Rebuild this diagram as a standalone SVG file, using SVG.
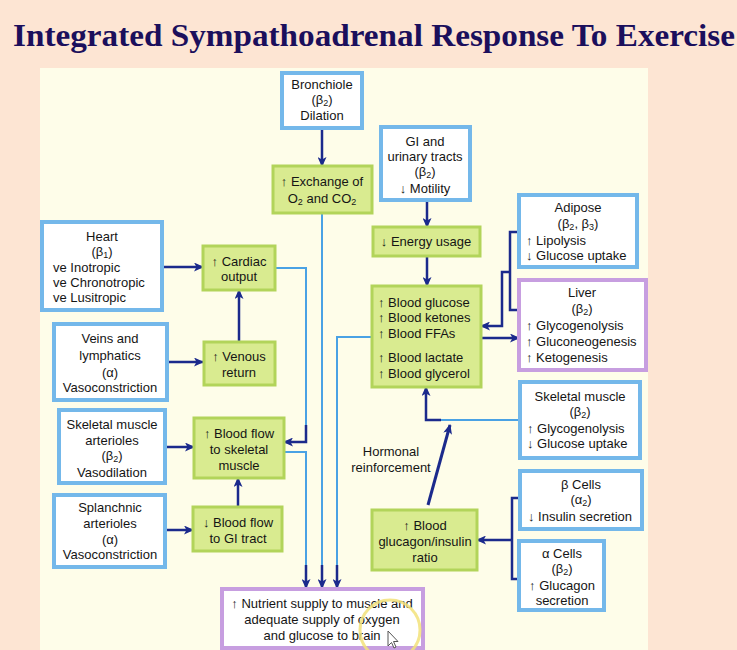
<svg xmlns="http://www.w3.org/2000/svg" width="737" height="650" viewBox="0 0 737 650">
<defs>
<marker id="ah" markerUnits="userSpaceOnUse" markerWidth="10" markerHeight="9" refX="9" refY="4.5" orient="auto">
<path d="M0,0 L10,4.5 L0,9 L2.5,4.5 z" fill="#1b2a8c"/>
</marker>
<style>
.t{font-family:"Liberation Sans",Arial,sans-serif;font-size:13px;fill:#151515}
.m{text-anchor:middle}
.s{font-size:9px}
.blue{fill:#ffffff;stroke:#74b8ea;stroke-width:4}
.green{fill:#d9eb90;stroke:#b2d45a;stroke-width:3}
.purple{fill:#ffffff;stroke:#c79ee0;stroke-width:4}
.lb{fill:none;stroke:#4aa2e4;stroke-width:2}
.nv{fill:none;stroke:#1b2a8c;stroke-width:2.5}
.ar{fill:none;stroke:#1b2a8c;stroke-width:2.5;marker-end:url(#ah)}
</style>
</defs>
<rect x="0" y="0" width="737" height="650" fill="#fde5d3"/>
<rect x="40" y="68" width="608" height="582" fill="#fefde9"/>
<text x="374" y="46" text-anchor="middle" font-family="'Liberation Serif','Times New Roman',serif" font-weight="bold" font-size="32" fill="#1b0f5c" textLength="722" lengthAdjust="spacingAndGlyphs">Integrated Sympathoadrenal Response To Exercise</text>

<g id="connectors">
<path class="ar" d="M322,128 V166"/>
<path class="lb" d="M322,213 V566"/>
<path class="ar" d="M322,565 V588"/>
<path class="lb" d="M275,268 H306 V426"/>
<path class="ar" d="M306,425 V442 H284"/>
<path class="lb" d="M284,452 H306 V566"/>
<path class="ar" d="M306,565 V588"/>
<path class="lb" d="M372,337 H337 V566"/>
<path class="ar" d="M337,565 V588"/>
<path class="ar" d="M162,267 H203"/>
<path class="ar" d="M239,342 V290"/>
<path class="ar" d="M167,362 H203"/>
<path class="ar" d="M165,447 H194"/>
<path class="ar" d="M165,530 H193"/>
<path class="ar" d="M238,507 V478"/>
<path class="ar" d="M427,200 V227"/>
<path class="ar" d="M427,256 V286"/>
<path class="nv" d="M519,232 H510 V310 H519"/>
<path class="ar" d="M510,272 H502 V326 H481"/>
<path class="ar" d="M481,338 H519"/>
<path class="lb" d="M520,420 H440"/>
<path class="ar" d="M441,420 H426 V387"/>
<path class="ar" d="M428,505 L450,425" style="stroke-width:3"/>
<path class="nv" d="M520,498 H512 V579 H519"/>
<path class="ar" d="M512,540 H477"/>
</g>

<g id="bronchiole">
<rect class="blue" x="282" y="73" width="80" height="55"/>
<text class="t m" x="322" y="89">Bronchiole</text>
<text class="t m" x="322" y="104">(β<tspan class="s" dy="2">2</tspan><tspan dy="-2">)</tspan></text>
<text class="t m" x="322" y="120">Dilation</text>
</g>
<g id="exchange">
<rect class="green" x="273" y="166" width="99" height="47"/>
<text class="t m" x="322" y="186">↑ Exchange of</text>
<text class="t m" x="322" y="203">O<tspan class="s" dy="2">2</tspan><tspan dy="-2"> and CO</tspan><tspan class="s" dy="2">2</tspan></text>
</g>
<g id="heart">
<rect class="blue" x="42" y="222" width="120" height="88"/>
<text class="t m" x="102" y="241">Heart</text>
<text class="t m" x="102" y="256">(β<tspan class="s" dy="2">1</tspan><tspan dy="-2">)</tspan></text>
<text class="t" x="53" y="272">ve Inotropic</text>
<text class="t" x="53" y="287">ve Chronotropic</text>
<text class="t" x="53" y="302">ve Lusitropic</text>
</g>
<g id="cardiac">
<rect class="green" x="203" y="246" width="72" height="44"/>
<text class="t m" x="239" y="266">↑ Cardiac</text>
<text class="t m" x="239" y="281">output</text>
</g>
<g id="veins">
<rect class="blue" x="54" y="324" width="113" height="76"/>
<text class="t m" x="110" y="343">Veins and</text>
<text class="t m" x="110" y="360">lymphatics</text>
<text class="t m" x="110" y="377">(α)</text>
<text class="t m" x="110" y="392">Vasoconstriction</text>
</g>
<g id="venous">
<rect class="green" x="204" y="342" width="71" height="43"/>
<text class="t m" x="239" y="361">↑ Venous</text>
<text class="t m" x="239" y="377">return</text>
</g>
<g id="skarterioles">
<rect class="blue" x="59" y="410" width="106" height="73"/>
<text class="t m" x="112" y="429">Skeletal muscle</text>
<text class="t m" x="112" y="445">arterioles</text>
<text class="t m" x="112" y="460">(β<tspan class="s" dy="2">2</tspan><tspan dy="-2">)</tspan></text>
<text class="t m" x="112" y="477">Vasodilation</text>
</g>
<g id="bloodflowsk">
<rect class="green" x="194" y="418" width="90" height="60"/>
<text class="t m" x="239" y="438">↑ Blood flow</text>
<text class="t m" x="239" y="454">to skeletal</text>
<text class="t m" x="239" y="470">muscle</text>
</g>
<g id="splanchnic">
<rect class="blue" x="54" y="495" width="111" height="72"/>
<text class="t m" x="110" y="512">Splanchnic</text>
<text class="t m" x="110" y="528">arterioles</text>
<text class="t m" x="110" y="544">(α)</text>
<text class="t m" x="110" y="559">Vasoconstriction</text>
</g>
<g id="bloodflowgi">
<rect class="green" x="193" y="507" width="89" height="44"/>
<text class="t m" x="238" y="527">↓ Blood flow</text>
<text class="t m" x="238" y="543">to GI tract</text>
</g>
<g id="gitracts">
<rect class="blue" x="381" y="127" width="89" height="73"/>
<text class="t m" x="425" y="146">GI and</text>
<text class="t m" x="425" y="161">urinary tracts</text>
<text class="t m" x="425" y="176">(β<tspan class="s" dy="2">2</tspan><tspan dy="-2">)</tspan></text>
<text class="t m" x="425" y="193">↓ Motility</text>
</g>
<g id="energy">
<rect class="green" x="373" y="227" width="107" height="29"/>
<text class="t m" x="426" y="246">↓ Energy usage</text>
</g>
<g id="bloodglucose">
<rect class="green" x="372" y="286" width="109" height="101"/>
<text class="t" x="378" y="307">↑ Blood glucose</text>
<text class="t" x="378" y="322">↑ Blood ketones</text>
<text class="t" x="378" y="338">↑ Blood FFAs</text>
<text class="t" x="378" y="362">↑ Blood lactate</text>
<text class="t" x="378" y="378">↑ Blood glycerol</text>
</g>
<g id="adipose">
<rect class="blue" x="519" y="195" width="118" height="72"/>
<text class="t m" x="578" y="212">Adipose</text>
<text class="t m" x="578" y="228">(β<tspan class="s" dy="2">2</tspan><tspan dy="-2">, β</tspan><tspan class="s" dy="2">3</tspan><tspan dy="-2">)</tspan></text>
<text class="t" x="526" y="245">↑ Lipolysis</text>
<text class="t" x="526" y="260">↓ Glucose uptake</text>
</g>
<g id="liver">
<rect class="purple" x="519" y="280" width="127" height="90"/>
<text class="t m" x="582" y="297">Liver</text>
<text class="t m" x="582" y="313">(β<tspan class="s" dy="2">2</tspan><tspan dy="-2">)</tspan></text>
<text class="t" x="526" y="330">↑ Glycogenolysis</text>
<text class="t" x="526" y="346">↑ Gluconeogenesis</text>
<text class="t" x="526" y="362">↑ Ketogenesis</text>
</g>
<g id="skmuscle">
<rect class="blue" x="520" y="382" width="120" height="76"/>
<text class="t m" x="580" y="401">Skeletal muscle</text>
<text class="t m" x="580" y="416">(β<tspan class="s" dy="2">2</tspan><tspan dy="-2">)</tspan></text>
<text class="t" x="527" y="433">↑ Glycogenolysis</text>
<text class="t" x="527" y="448">↓ Glucose uptake</text>
</g>
<g id="hormonal">
<text class="t m" x="391" y="456">Hormonal</text>
<text class="t m" x="391" y="472">reinforcement</text>
</g>
<g id="glucagon">
<rect class="green" x="372" y="510" width="105" height="60"/>
<text class="t m" x="425" y="530">↑ Blood</text>
<text class="t m" x="425" y="546">glucagon/insulin</text>
<text class="t m" x="425" y="562">ratio</text>
</g>
<g id="betacells">
<rect class="blue" x="520" y="471" width="122" height="58"/>
<text class="t m" x="581" y="489">β Cells</text>
<text class="t m" x="581" y="504">(α<tspan class="s" dy="2">2</tspan><tspan dy="-2">)</tspan></text>
<text class="t m" x="580" y="521">↓ Insulin secretion</text>
</g>
<g id="alphacells">
<rect class="blue" x="519" y="541" width="85" height="69"/>
<text class="t m" x="562" y="558">α Cells</text>
<text class="t m" x="562" y="573">(β<tspan class="s" dy="2">2</tspan><tspan dy="-2">)</tspan></text>
<text class="t m" x="562" y="590">↑ Glucagon</text>
<text class="t m" x="562" y="605">secretion</text>
</g>
<g id="nutrient">
<rect class="purple" x="222" y="589" width="201" height="59"/>
<text class="t m" x="322" y="608">↑ Nutrient supply to muscle and</text>
<text class="t m" x="322" y="624">adequate supply of oxygen</text>
<text class="t m" x="322" y="640">and glucose to brain</text>
</g>
<g id="cursor">
<circle cx="390" cy="630" r="30" fill="none" stroke="#f2e27a" stroke-width="3" opacity="0.85"/>
<path d="M388,631 V646 L391.5,642.5 L394,648 L396,647 L393.5,641.5 L398,641.5 z" fill="#ffffff" stroke="#555" stroke-width="1"/>
</g>
</svg>
